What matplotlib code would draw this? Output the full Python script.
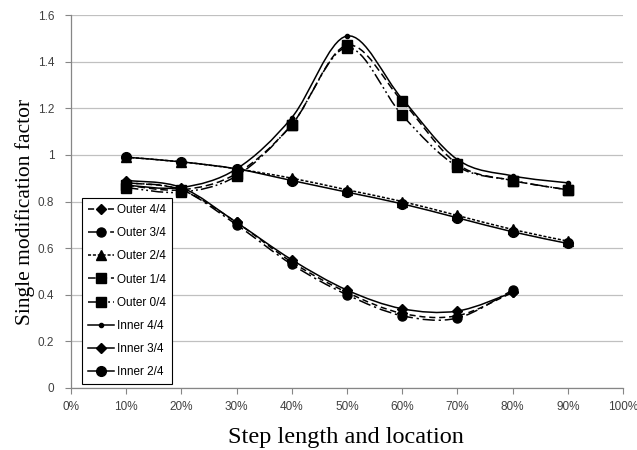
import matplotlib
matplotlib.use("Agg")
import matplotlib.pyplot as plt
import numpy as np
from matplotlib.lines import Line2D
from matplotlib.patches import PathPatch
from matplotlib.path import Path
from matplotlib.ticker import FuncFormatter, MultipleLocator

# step length / location (fraction), two lengths of series
STEP_9 = [0.1, 0.2, 0.3, 0.4, 0.5, 0.6, 0.7, 0.8, 0.9]
STEP_8 = [0.1, 0.2, 0.3, 0.4, 0.5, 0.6, 0.7, 0.8]

# single modification factor
OUTER_44 = [0.88, 0.85, 0.71, 0.54, 0.41, 0.32, 0.31, 0.41]
OUTER_34 = [0.88, 0.85, 0.70, 0.53, 0.40, 0.31, 0.30, 0.42]
OUTER_24 = [0.99, 0.97, 0.94, 0.90, 0.85, 0.80, 0.74, 0.68, 0.63]
OUTER_14 = [0.87, 0.85, 0.92, 1.13, 1.47, 1.23, 0.96, 0.89, 0.85]
OUTER_04 = [0.86, 0.84, 0.91, 1.13, 1.46, 1.17, 0.95, 0.89, 0.85]
INNER_44 = [0.87, 0.86, 0.94, 1.16, 1.51, 1.24, 0.98, 0.91, 0.88]
INNER_34 = [0.89, 0.86, 0.71, 0.55, 0.42, 0.34, 0.33, 0.41]
INNER_24 = [0.99, 0.97, 0.94, 0.89, 0.84, 0.79, 0.73, 0.67, 0.62]

LABELS = ["Outer 4/4", "Outer 3/4", "Outer 2/4", "Outer 1/4", "Outer 0/4",
          "Inner 4/4", "Inner 3/4", "Inner 2/4"]
XS = [STEP_8, STEP_8, STEP_9, STEP_9, STEP_9, STEP_9, STEP_8, STEP_9]
YS = [OUTER_44, OUTER_34, OUTER_24, OUTER_14, OUTER_04, INNER_44, INNER_34, INNER_24]

# (dash pattern, marker, marker size)
STYLES = [
    ((4, 2.5), "D", 5.5),
    ((8, 2.5, 1.5, 2.5), "o", 6.5),
    ((2, 1.2), "^", 6.5),
    ((5, 2.5), "s", 6.5),
    ((8, 2, 1.2, 2, 1.2, 2), "s", 6.5),
    (None, "o", 3.0),
    (None, "D", 5.0),
    (None, "o", 7.0),
]


def smooth_path(xs, ys) -> Path:
    """Excel-like smoothed line: cubic bezier through every point."""
    p = np.column_stack([xs, ys])
    n = len(p)
    verts, codes = [p[0]], [Path.MOVETO]
    for i in range(n - 1):
        p0 = p[i - 1] if i > 0 else p[i]
        p3 = p[i + 2] if i + 2 < n else p[i + 1]
        c1 = p[i] + (p[i + 1] - p0) / 6.0
        c2 = p[i + 1] - (p3 - p[i]) / 6.0
        verts += [c1, c2, p[i + 1]]
        codes += [Path.CURVE4] * 3
    return Path(verts, codes)


def main() -> None:
    fig = plt.figure(figsize=(6.37, 4.5), dpi=100)
    ax = fig.add_axes([71 / 637, 62 / 450, 552 / 637, 373 / 450])

    lw = 1.1
    handles = []
    for label, xs, ys, (dash, mk, ms) in zip(LABELS, XS, YS, STYLES):
        ls = "-" if dash is None else (0, dash)
        ax.add_patch(PathPatch(smooth_path(xs, ys), fill=False, edgecolor="black",
                               linewidth=lw, linestyle=ls, zorder=3))
        ax.plot(xs, ys, linestyle="none", marker=mk, markersize=ms,
                color="black", zorder=4)
        handles.append(Line2D([0], [0], color="black", linewidth=lw, linestyle=ls,
                              marker=mk, markersize=ms, label=label))

    ax.set_xlim(0, 1)
    ax.set_ylim(0, 1.6)
    ax.xaxis.set_major_locator(MultipleLocator(0.1))
    ax.yaxis.set_major_locator(MultipleLocator(0.2))
    ax.xaxis.set_major_formatter(FuncFormatter(lambda v, _: f"{v * 100:.0f}%"))
    ax.yaxis.set_major_formatter(FuncFormatter(lambda v, _: f"{v:g}"))
    for t in ax.get_xticklabels() + ax.get_yticklabels():
        t.set_fontfamily("Liberation Sans")
        t.set_fontsize(8.5)
    ax.tick_params(axis="both", direction="out", length=4, color="#868686",
                   labelcolor="#404040")
    ax.tick_params(axis="y", pad=8)
    ax.tick_params(axis="x", pad=5)

    ax.grid(axis="y", color="#c0c0c0", linewidth=0.9)
    ax.set_axisbelow(True)
    for side in ("top", "right"):
        ax.spines[side].set_visible(False)
    for side in ("left", "bottom"):
        ax.spines[side].set_color("#868686")
        ax.spines[side].set_linewidth(0.9)

    fig.text(346 / 637, 1 - 437 / 450, "Step length and location",
             family="Liberation Serif", fontsize=17.5, ha="center", va="center")
    fig.text(25 / 637, 1 - 212 / 450, "Single modification factor",
             family="Liberation Serif", fontsize=15.5, ha="center", va="center",
             rotation=90)

    leg = fig.legend(handles=handles, loc="upper left",
                     bbox_to_anchor=(82 / 637, 1 - 198 / 450), borderaxespad=0,
                     prop={"family": "Liberation Sans", "size": 8.5},
                     frameon=True, fancybox=False, framealpha=1,
                     edgecolor="black", handlelength=2.2, handletextpad=0.3,
                     labelspacing=0.95, borderpad=0.5)
    leg.get_frame().set_linewidth(0.8)

    fig.savefig("out.png", dpi=100)
    plt.close(fig)


if __name__ == "__main__":
    main()
